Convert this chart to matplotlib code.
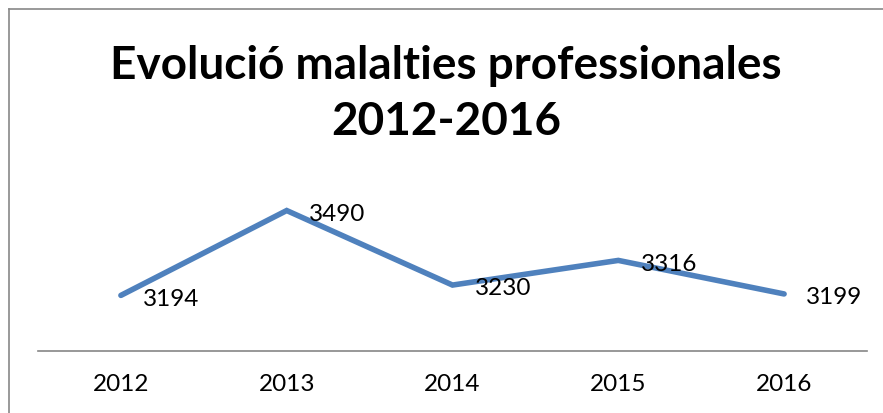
import matplotlib.pyplot as plt
from matplotlib.lines import Line2D

years = ["2012", "2013", "2014", "2015", "2016"]
cases = [3194, 3490, 3230, 3316, 3199]

fig = plt.figure(figsize=(8.83, 4.14), dpi=100)
ax = fig.add_axes([38 / 883, 62 / 414, 829 / 883, 172 / 414])

x = range(len(years))
ax.plot(x, cases, color="#4F81BD", linewidth=4.0, solid_capstyle="round", solid_joinstyle="miter")
for i, v in zip(x, cases):
    ax.annotate(str(v), (i, v), xytext=(16, -2), textcoords="offset points",
                ha="left", va="center", fontsize=17.5, family="Lato")

ax.set_xlim(-0.5, len(years) - 0.5)
ax.set_ylim(3000, 3600)
ax.set_xticks(list(x))
ax.set_xticklabels(years, fontsize=17.5, family="Lato")
ax.tick_params(axis="x", length=0, pad=16)
ax.set_yticks([])
for s in ["left", "right", "top"]:
    ax.spines[s].set_visible(False)
ax.spines["bottom"].set_color("#868686")
ax.spines["bottom"].set_linewidth(1.2)

fig.text(0.505, 1 - 94 / 414, "Evolució malalties professionales\n2012-2016",
         ha="center", va="center", fontsize=33, fontweight="bold", family="Lato",
         linespacing=1.43)

# chart frame (left and top edges visible)
fig.add_artist(Line2D([9 / 883, 9 / 883], [0, 1 - 10 / 414], color="#888888", linewidth=1.2))
fig.add_artist(Line2D([9 / 883, 1], [1 - 10 / 414, 1 - 10 / 414], color="#888888", linewidth=1.2))

fig.savefig("out.png", dpi=100)
